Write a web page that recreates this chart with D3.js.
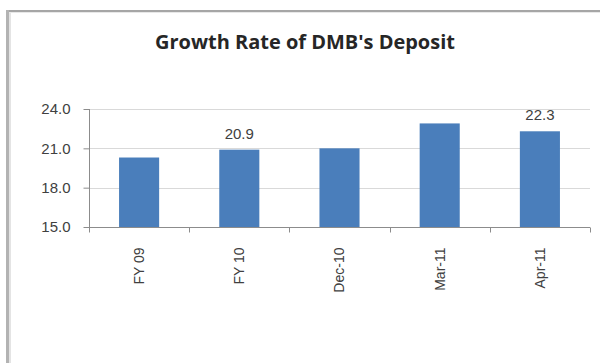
<!DOCTYPE html>
<html>
<head>
<meta charset="utf-8">
<script src="https://cdn.jsdelivr.net/npm/d3@7"></script>
<style>
  html, body { margin: 0; padding: 0; background: #fff; }
  svg { display: block; }
</style>
</head>
<body>
<svg id="chart" width="600" height="363"></svg>
<script>
const title = "Growth Rate of DMB's Deposit";
const categories = ["FY 09", "FY 10", "Dec-10", "Mar-11", "Apr-11"];
const values = [20.3, 20.9, 21.0, 22.9, 22.3];
const labelled = [false, true, false, false, true];
const yTicks = [15, 18, 21, 24];

const svg = d3.select("#chart");
const W = 600, H = 363;
const plot = { left: 89, right: 590, top: 109, bottom: 227 };

svg.append("rect").attr("width", W).attr("height", H).attr("fill", "#fff");

// frame (left and top edges visible)
svg.append("rect").attr("x", 6).attr("y", 10).attr("width", W - 6).attr("height", 2).attr("fill", "#a6a6a6");
svg.append("rect").attr("x", 6).attr("y", 10).attr("width", 3).attr("height", H - 10).attr("fill", "#b3b3b3");
svg.append("rect").attr("x", 9).attr("y", 12).attr("width", 2).attr("height", H - 12).attr("fill", "#e4e4e4");
svg.append("rect").attr("x", 9).attr("y", 12).attr("width", W - 9).attr("height", 1).attr("fill", "#e8e8e8");

// title
const t = svg.append("text")
  .attr("x", 305).attr("y", 49)
  .attr("text-anchor", "middle")
  .attr("font-family", "'Open Sans', 'Liberation Sans', sans-serif")
  .attr("font-weight", "bold")
  .attr("font-size", 18)
  .attr("fill", "#262626")
  .text(title);
const tw = t.node().getComputedTextLength();
t.attr("font-size", 18 * 300 / tw);

const x = d3.scaleBand().domain(categories).range([plot.left, plot.right])
  .paddingInner(0.6).paddingOuter(0.3);
const xBins = d3.scaleBand().domain(categories).range([plot.left, plot.right]).padding(0);
const y = d3.scaleLinear().domain([15, 24]).range([plot.bottom, plot.top]);

// gridlines
svg.append("g").selectAll("line").data(yTicks.filter(d => d !== 15)).join("line")
  .attr("x1", plot.left).attr("x2", plot.right)
  .attr("y1", d => Math.round(y(d)) + 0.5).attr("y2", d => Math.round(y(d)) + 0.5)
  .attr("stroke", "#d9d9d9").attr("stroke-width", 1);

// bars
svg.append("g").selectAll("rect").data(values).join("rect")
  .attr("x", (d, i) => x(categories[i]))
  .attr("width", x.bandwidth())
  .attr("y", d => y(d))
  .attr("height", d => y(15) - y(d))
  .attr("fill", "#4a7ebb");

// data labels
svg.append("g").selectAll("text").data(values.map((v, i) => ({ v, i })).filter(d => labelled[d.i])).join("text")
  .attr("x", d => x(categories[d.i]) + x.bandwidth() / 2)
  .attr("y", d => y(d.v) - 11)
  .attr("text-anchor", "middle")
  .attr("font-family", "'Liberation Sans', Arial, sans-serif")
  .attr("font-size", 15)
  .attr("fill", "#404040")
  .text(d => d.v.toFixed(1));

// y axis
const yAxis = d3.axisLeft(y).tickValues(yTicks).tickFormat(d3.format(".1f")).tickSize(6).tickPadding(13);
const gy = svg.append("g").attr("transform", `translate(${plot.left + 0.5},0)`).call(yAxis);
gy.select(".domain").attr("stroke", "#8c8c8c").attr("d", `M-0,${plot.top}V${plot.bottom}`);
gy.selectAll(".tick line").attr("stroke", "#8c8c8c");
gy.selectAll(".tick text")
  .attr("font-family", "'Liberation Sans', Arial, sans-serif")
  .attr("font-size", 15).attr("fill", "#404040");

// x axis
const xAxis = d3.axisBottom(xBins).tickSize(0).tickFormat("");
const gx = svg.append("g").attr("transform", `translate(0,${plot.bottom + 0.5})`).call(xAxis);
gx.select(".domain").attr("stroke", "#8c8c8c").attr("d", `M${plot.left},0H${plot.right}`);
gx.selectAll(".tick").remove();
const boundaries = categories.map(c => xBins(c)).concat([plot.right]);
gx.selectAll("line.sep").data(boundaries).join("line").attr("class", "sep")
  .attr("x1", d => Math.round(d) + 0.5).attr("x2", d => Math.round(d) + 0.5)
  .attr("y1", 0).attr("y2", 5).attr("stroke", "#8c8c8c");
gx.selectAll("text.cat").data(categories).join("text").attr("class", "cat")
  .attr("transform", d => `translate(${x(d) + x.bandwidth() / 2},20) rotate(-90)`)
  .attr("text-anchor", "end")
  .attr("dy", "0.35em")
  .attr("font-family", "'Liberation Sans', Arial, sans-serif")
  .attr("font-size", 14).attr("fill", "#404040")
  .text(d => d);
</script>
</body>
</html>
